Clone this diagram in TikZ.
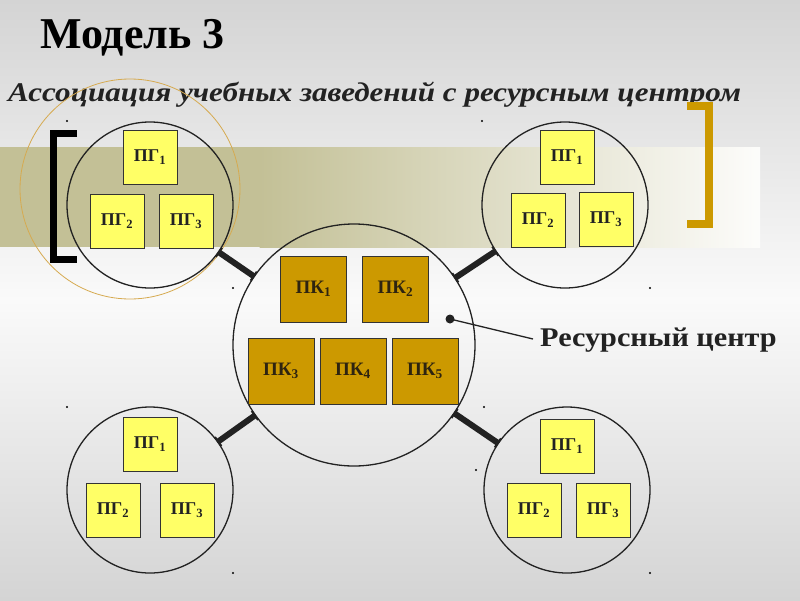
\documentclass[tikz,border=0pt]{standalone}
\usepackage{fontspec}
\setmainfont{Liberation Serif}
\usetikzlibrary{arrows.meta}
\definecolor{pgyellow}{HTML}{FFFF66}
\definecolor{pkgold}{HTML}{CC9900}
\definecolor{bandolive}{HTML}{C3C096}
\definecolor{bggray}{HTML}{D4D4D4}
\definecolor{ringgold}{HTML}{D6AA50}
\definecolor{darktext}{HTML}{222222}
\definecolor{pktext}{HTML}{2E2410}
\begin{document}
\begin{tikzpicture}[x=1pt,y=-1pt,
  pg/.style={draw=black!80, line width=0.8pt, fill=pgyellow, minimum size=54pt, inner sep=0pt, font=\fontsize{18}{20}\selectfont\bfseries, text=darktext},
  pk/.style={draw=black!80, line width=0.8pt, fill=pkgold, minimum size=66pt, inner sep=0pt, font=\fontsize{19}{21}\selectfont\bfseries, text=pktext},
  grp/.style={circle, draw=darktext, line width=1.3pt, minimum size=166pt, inner sep=0pt},
  link/.style={line width=6pt, draw=darktext, {Bar[width=11pt,line width=2pt]}-{Bar[width=11pt,line width=2pt]}, shorten <=-1pt, shorten >=-1pt},
  speck/.style={fill=black}]
\useasboundingbox (0,0) rectangle (800,600);
% background
\shade[top color=bggray, bottom color=white!98!black] (0,0) rectangle (800,300);
\shade[top color=white!98!black, bottom color=bggray] (0,300) rectangle (800,600);
% band
\fill[bandolive] (0,147) rectangle (260,247);
\shade[left color=bandolive, right color=white!96!bandolive] (259.5,147) rectangle (760,247);
% titles
\node[anchor=base west, font=\fontsize{44}{50}\selectfont\bfseries, inner sep=0pt] (title) at (40,48) {Модель 3};
\node[anchor=base west, font=\fontsize{27}{32}\selectfont\bfseries\itshape, text=darktext, inner sep=0pt] (subtitle) at (8,101) {\scalebox{1.15}[1]{Ассоциация учебных заведений с ресурсным центром}};
% brackets
\draw[line width=7pt, miter limit=10] (77,133.5) -- (53.5,133.5) -- (53.5,259.5) -- (77,259.5);
\draw[pkgold, line width=8pt, miter limit=10] (687,106) -- (709,106) -- (709,224) -- (687,224);
% decorative ring
\node[circle, draw=ringgold, line width=0.8pt, minimum size=220pt, inner sep=0pt] (ring) at (130,189) {};
% groups
\node[grp] (gTL) at (150,205) {};
\node[grp] (gTR) at (565,205) {};
\node[grp] (gBL) at (150,490) {};
\node[grp] (gBR) at (567,490) {};
\node[grp, minimum size=242pt] (center) at (354,345) {};
% links
\draw[link] (gTL) -- (center);
\draw[link] (gTR) -- (center);
\draw[link] (gBL) -- (center);
\draw[link] (gBR) -- (center);
% top-left boxes
\node[pg] (tl1) at (150,157) {ПГ\textsubscript{1}};
\node[pg] (tl2) at (117,221) {ПГ\textsubscript{2}};
\node[pg] (tl3) at (186,221) {ПГ\textsubscript{3}};
% top-right boxes
\node[pg] (tr1) at (567,157) {ПГ\textsubscript{1}};
\node[pg] (tr2) at (538,220) {ПГ\textsubscript{2}};
\node[pg] (tr3) at (606,219) {ПГ\textsubscript{3}};
% bottom-left boxes
\node[pg] (bl1) at (150,444) {ПГ\textsubscript{1}};
\node[pg] (bl2) at (113,510) {ПГ\textsubscript{2}};
\node[pg] (bl3) at (187,510) {ПГ\textsubscript{3}};
% bottom-right boxes
\node[pg] (br1) at (567,446) {ПГ\textsubscript{1}};
\node[pg] (br2) at (534,510) {ПГ\textsubscript{2}};
\node[pg] (br3) at (603,510) {ПГ\textsubscript{3}};
% center boxes
\node[pk] (k1) at (313.5,289) {ПК\textsubscript{1}};
\node[pk] (k2) at (395.5,289) {ПК\textsubscript{2}};
\node[pk] (k3) at (281,371) {ПК\textsubscript{3}};
\node[pk] (k4) at (353,371) {ПК\textsubscript{4}};
\node[pk] (k5) at (425,371) {ПК\textsubscript{5}};
% resource centre label
\node[circle, fill=darktext, inner sep=0pt, minimum size=9pt] (rcdot) at (450,319) {};
\node[anchor=west, inner sep=0pt, font=\fontsize{27}{32}\selectfont\bfseries, text=darktext] (rclabel) at (540,340) {\scalebox{1.12}[1]{Ресурсный центр}};
\coordinate (rcend) at (533,339);
\draw[darktext, line width=1.3pt] (rcdot.center) -- (rcend);
% specks
\foreach \p in {(67,121),(482,121),(233,288),(650,288),(67,407),(233,573),(484,407),(476,470),(650,573)}
  \fill[speck] \p circle (1.1);
\end{tikzpicture}
\end{document}
